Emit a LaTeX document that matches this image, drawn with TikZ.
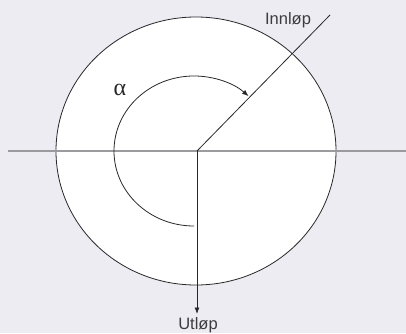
\documentclass[tikz,border=0pt]{standalone}
\usepackage{fontspec}
\setmainfont{Liberation Sans}
\newfontfamily\greekfont{Liberation Serif}
\usetikzlibrary{arrows.meta}
\definecolor{bg}{RGB}{236,236,242}
\definecolor{axisgray}{RGB}{155,155,158}
\definecolor{ink}{RGB}{40,40,40}
\tikzset{
  thinline/.style={draw=ink, line width=0.8pt},
  axisline/.style={draw=axisgray, line width=1.5pt},
  lbl/.style={font=\fontsize{16.5}{18}\selectfont, text=ink!90, inner sep=0pt},
  tipstyle/.style={-{Latex[length=6.5pt,width=5pt]}}
}
\begin{document}
\begin{tikzpicture}[x=1pt,y=1pt]
\useasboundingbox[fill=bg] (0,0) rectangle (406,333);
% outer circle
\coordinate (C) at (196,182);
\draw[thinline, fill=white] (C) ellipse[x radius=140pt, y radius=134pt];
% horizontal axis
\coordinate (L) at (8,182);
\coordinate (R) at (406,182);
\draw[axisline] (L) -- (R);
% centre
\coordinate (O) at (197,182);
\coordinate (In) at (330,318);
\coordinate (Out) at (197,19);
\draw[thinline] (O) -- (In);
\draw[thinline, tipstyle] (O) -- (Out);
% angle arc
\coordinate (A0) at (194,107);
\draw[thinline, tipstyle] (A0) arc[start angle=-90, end angle=-313, x radius=80pt, y radius=75pt];
% labels
\node[lbl, anchor=base] (inl) at (288,308.5) {Innløp};
\node[lbl, anchor=base] (utl) at (198,3.6) {Utløp};
\node[inner sep=0pt, text=ink] (alpha) at (120,243) {\greekfont\fontsize{24}{26}\selectfont α};
\end{tikzpicture}
\end{document}
